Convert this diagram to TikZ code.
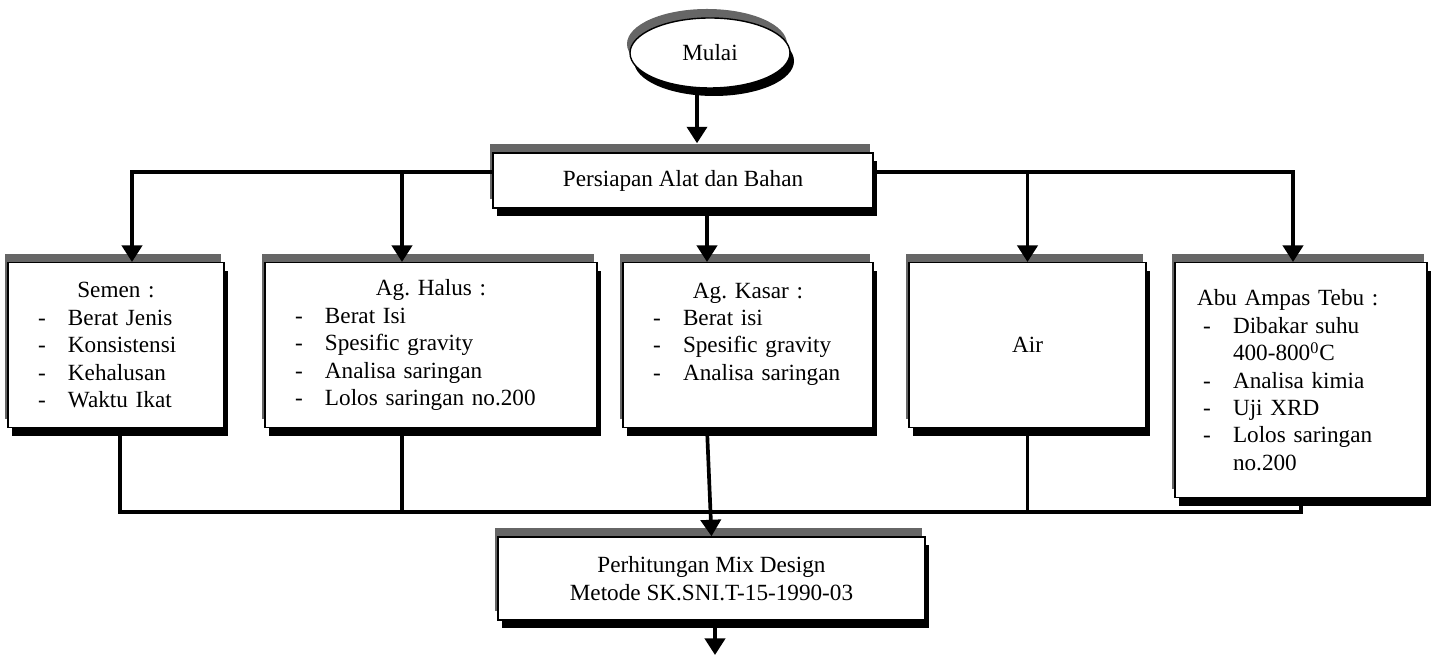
\documentclass[tikz,border=0pt]{standalone}
\usepackage{fontspec}
\setmainfont{Liberation Serif}
\usetikzlibrary{shapes.geometric,shadows,arrows.meta}
\definecolor{bevelgray}{RGB}{102,102,102}
\newcommand{\itm}[1]{\makebox[0.6cm][l]{-}#1}
\newcommand{\hd}[1]{\makebox[\hsize]{#1}}

\begin{document}
\begin{tikzpicture}[
  font=\fontsize{13.2}{15.6}\selectfont,
  bevel/.style={draw, fill=white, line width=0.8pt,
    general shadow={fill=bevelgray, shadow xshift=-0.06cm, shadow yshift=0.18cm},
    general shadow={fill=black, shadow xshift=0.08cm, shadow yshift=-0.16cm}},
  box/.style={bevel, rectangle, anchor=north, inner xsep=0.6cm, align=left},
  line/.style={line width=2.1pt},
  arr/.style={line, -{Triangle[width=4mm,length=3.3mm]}}
]
\useasboundingbox (0,0) rectangle (28.7,13.14);
% start and preparation
\node[bevel, ellipse, minimum width=3.2cm, minimum height=1.4cm] (mulai) at (14.2,12.08) {Mulai};
\node[bevel, rectangle, minimum width=7.6cm, minimum height=1.1cm] (persiapan) at (13.66,9.53) {Persiapan Alat dan Bahan};
% materials
\node[box, text width=3.12cm, minimum height=3.3cm] (semen) at (2.32,7.9)
  {\hd{Semen :}\\ \itm{Berat Jenis}\\ \itm{Konsistensi}\\ \itm{Kehalusan}\\ \itm{Waktu Ikat}};
\node[box, text width=5.44cm, minimum height=3.3cm] (halus) at (8.62,7.9)
  {\hd{Ag.\ Halus :}\\ \itm{Berat Isi}\\ \itm{Spesific gravity}\\ \itm{Analisa saringan}\\ \itm{Lolos saringan no.200}};
\node[box, text width=3.8cm, minimum height=3.3cm] (kasar) at (14.96,7.9)
  {\hd{Ag.\ Kasar :}\\ \itm{Berat isi}\\ \itm{Spesific gravity}\\ \itm{Analisa saringan}\\ \mbox{}};
\node[box, align=center, minimum width=4.74cm, minimum height=3.3cm] (air) at (20.55,7.9) {Air};
\node[box, inner xsep=0.44cm, text width=4.16cm, minimum height=4.7cm] (abu) at (26.02,7.9)
  {Abu Ampas Tebu :\\
   \hspace*{0.12cm}\itm{Dibakar suhu}\\
   \hspace*{0.72cm}400-800\textsuperscript{0}C\\
   \hspace*{0.12cm}\itm{Analisa kimia}\\
   \hspace*{0.12cm}\itm{Uji XRD}\\
   \hspace*{0.12cm}\itm{Lolos saringan}\\
   \hspace*{0.72cm}no.200};
% mix design
\node[bevel, rectangle, minimum width=8.54cm, minimum height=1.66cm, align=center] (mix) at (14.23,1.57)
  {Perhitungan Mix Design\\ Metode SK.SNI.T-15-1990-03};

\coordinate (busL) at ([yshift=0.17cm]persiapan.west);
\coordinate (busR) at ([yshift=0.17cm]persiapan.east);
\coordinate (bus) at ([yshift=0.48cm]mix.north);
\coordinate (finish) at (14.3,0.04);

\draw[arr] ([xshift=-0.26cm]mulai.south) -- ([xshift=-0.26cm,yshift=0.18cm]mulai.south |- persiapan.north);
\draw[arr] (busL) -| ([xshift=0.32cm]semen.north);
\draw[arr] ([xshift=-0.58cm]halus.north |- busL) -- ([xshift=-0.58cm]halus.north);
\draw[arr] ([xshift=-0.82cm]kasar.north |- persiapan.south) -- ([xshift=-0.82cm]kasar.north);
\draw[arr] (air.north |- busR) -- (air.north);
\draw[arr] (busR) -| ([xshift=-0.16cm]abu.north);

\draw[line] ([xshift=0.08cm]semen.south) |- (bus) -| (abu.south);
\draw[line] ([xshift=-0.58cm]halus.south) -- ([xshift=-0.58cm]halus.south |- bus);
\draw[line] (air.south) -- (air.south |- bus);
\draw[arr] ([xshift=-0.82cm]kasar.south) -- (mix.north);
\draw[arr] ([xshift=0.07cm]mix.south) -- (finish);
\end{tikzpicture}
\end{document}
